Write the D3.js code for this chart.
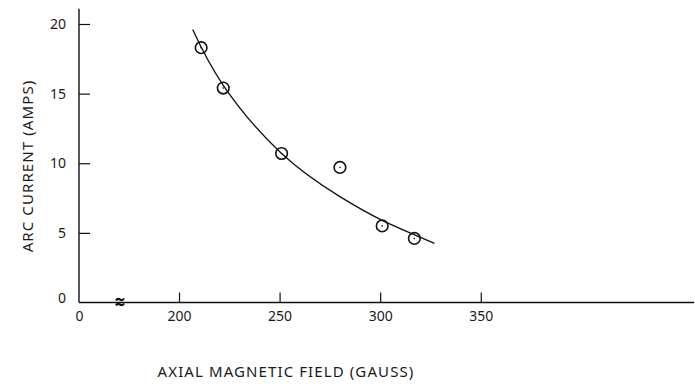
<!DOCTYPE html>
<html>
<head>
<meta charset="utf-8">
<script src="https://cdn.jsdelivr.net/npm/d3@7"></script>
<style>
  body { margin: 0; background: #fff; }
  svg text { font-family: "Noto Sans", "DejaVu Sans", sans-serif; fill: #1a1a1a; }
  .axis path { display: none; }
  .axis line { stroke: #111; stroke-width: 1.2; }
</style>
</head>
<body>
<div id="chart"></div>
<script>
// measured points: axial field (gauss) vs arc current (amps)
var fieldGauss = [211, 222, 251, 280, 301, 317];
var arcAmps = [18.3, 15.4, 10.7, 9.7, 5.5, 4.6];

// hand-drawn fit curve
var curveGauss = [206.8, 222, 251, 280, 301, 327];
var curveAmps = [19.6, 15.6, 10.7, 7.6, 5.9, 4.25];

var xTicks = [0, 200, 250, 300, 350];
var yTicks = [0, 5, 10, 15, 20];

var width = 695, height = 387;

var svg = d3.select("#chart").append("svg")
    .attr("width", width)
    .attr("height", height);

// broken axis: 0 then jump to 200
var x = d3.scaleLinear().domain([0, 200, 456]).range([79, 179, 694]);
var y = d3.scaleLinear().domain([0, 20]).range([302.5, 24]);

// axis lines
svg.append("line")
    .attr("x1", x(0)).attr("x2", x(0))
    .attr("y1", y(0)).attr("y2", y(21.1))
    .attr("stroke", "#111").attr("stroke-width", 1.4);
svg.append("line")
    .attr("x1", x(0)).attr("x2", x(456))
    .attr("y1", y(0)).attr("y2", y(0))
    .attr("stroke", "#111").attr("stroke-width", 1.4);

var yAxis = svg.append("g")
    .attr("class", "axis")
    .attr("transform", "translate(" + x(0) + ",0)")
    .call(d3.axisLeft(y).tickValues(yTicks).tickSize(-11).tickPadding(13));
yAxis.selectAll("text").attr("font-size", 14).attr("dy", "0.33em");
yAxis.selectAll(".tick").filter(function(d) { return d === 0; })
    .select("text").attr("dy", "0em");
yAxis.selectAll(".tick").filter(function(d) { return d === 0; })
    .select("line").remove();

var xAxis = svg.append("g")
    .attr("class", "axis")
    .attr("transform", "translate(0," + y(0) + ")")
    .call(d3.axisBottom(x).tickValues(xTicks).tickSize(-10).tickPadding(9));
xAxis.selectAll("text").attr("font-size", 14);
xAxis.selectAll(".tick").filter(function(d) { return d === 0; })
    .select("line").remove();

// axis break mark
var bx = 120, by = y(0);
[-3, 2].forEach(function(o) {
  svg.append("path")
      .attr("d", "M" + (bx - 4) + "," + (by + o + 1) +
                 " C" + (bx - 1) + "," + (by + o - 4) + " " + (bx + 1) + "," + (by + o + 4) +
                 " " + (bx + 4) + "," + (by + o - 1))
      .attr("fill", "none").attr("stroke", "#111").attr("stroke-width", 2.2);
});

// fitted curve
var line = d3.line()
    .x(function(d) { return x(d[0]); })
    .y(function(d) { return y(d[1]); })
    .curve(d3.curveNatural);

svg.append("path")
    .datum(d3.zip(curveGauss, curveAmps))
    .attr("d", line)
    .attr("fill", "none")
    .attr("stroke", "#111")
    .attr("stroke-width", 1.3);

// data circles
var pts = svg.append("g").selectAll("g")
    .data(d3.zip(fieldGauss, arcAmps))
    .enter().append("g");

pts.append("circle")
    .attr("cx", function(d) { return x(d[0]); })
    .attr("cy", function(d) { return y(d[1]); })
    .attr("r", 5.8)
    .attr("fill", "none")
    .attr("stroke", "#111")
    .attr("stroke-width", 1.6);

pts.append("circle")
    .attr("cx", function(d) { return x(d[0]); })
    .attr("cy", function(d) { return y(d[1]); })
    .attr("r", 0.8)
    .attr("fill", "#111");

// axis titles
svg.append("text")
    .attr("transform", "translate(33," + 166 + ") rotate(-90)")
    .attr("text-anchor", "middle")
    .attr("font-size", 15)
    .attr("letter-spacing", "1.1px")
    .text("ARC CURRENT (AMPS)");

svg.append("text")
    .attr("x", 286)
    .attr("y", 377)
    .attr("text-anchor", "middle")
    .attr("font-size", 15)
    .attr("letter-spacing", "1.1px")
    .text("AXIAL MAGNETIC FIELD  (GAUSS)");
</script>
</body>
</html>
